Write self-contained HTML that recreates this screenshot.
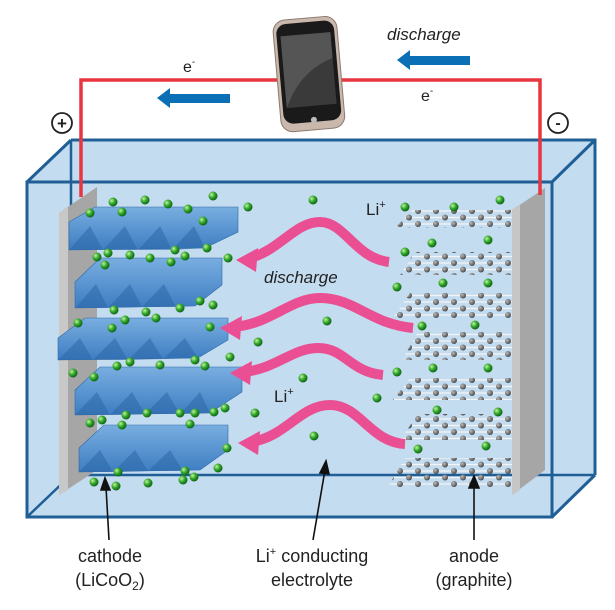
<!DOCTYPE html>
<html><head><meta charset="utf-8"><style>
html,body{margin:0;padding:0;background:#fff;width:615px;height:610px;overflow:hidden}
svg{display:block}
text{font-family:"Liberation Sans",Arial,sans-serif;fill:#222}
</style></head><body>
<svg width="615" height="610" viewBox="0 0 615 610" xmlns="http://www.w3.org/2000/svg">
<defs>
<radialGradient id="g" cx="0.35" cy="0.35" r="0.7"><stop offset="0" stop-color="#c8f0a0"/><stop offset="0.5" stop-color="#2fa82a"/><stop offset="1" stop-color="#0d5a12"/></radialGradient>
<radialGradient id="c" cx="0.35" cy="0.35" r="0.7"><stop offset="0" stop-color="#bbb"/><stop offset="1" stop-color="#444"/></radialGradient>
<pattern id="gr" width="18" height="13" patternUnits="userSpaceOnUse">
<line x1="0" y1="3" x2="18" y2="3" stroke="#f4f4f4" stroke-width="1.3"/>
<line x1="0" y1="9.5" x2="18" y2="9.5" stroke="#f4f4f4" stroke-width="1.3"/>
<circle cx="4" cy="3" r="3" fill="url(#c)"/><circle cx="13" cy="9.5" r="3" fill="url(#c)"/>
</pattern>
<linearGradient id="slab" x1="0" y1="0" x2="0" y2="1"><stop offset="0" stop-color="#79aee0"/><stop offset="1" stop-color="#3d7dc2"/></linearGradient>
</defs>

<!-- box back / fill -->
<polygon points="71,140 595,140 595,475 552,517 27,517 27,182" fill="#c4dcf0"/>
<polyline points="71,140 71,475 595,475" fill="none" stroke="#1f5f95" stroke-width="2.5"/>
<line x1="71" y1="475" x2="27" y2="517" stroke="#1f5f95" stroke-width="2.5"/>
<polyline points="71,140 595,140 595,475" fill="none" stroke="#1f5f95" stroke-width="3"/>

<!-- cathode plate -->
<polygon points="59,213 97,187 97,470 59,495" fill="#a6a6a6"/>
<polygon points="59,213 68,207 68,490 59,495" fill="#c8c8c8"/>
<!-- anode plate -->
<polygon points="512,210 545,188 545,470 512,495" fill="#a6a6a6"/>
<polygon points="512,210 520,205 520,490 512,495" fill="#c6c6c6"/>

<!-- graphite layers -->
<g>
<polygon points="395,228 412,210 512,210 512,228" fill="url(#gr)"/>
<polygon points="400,275 415,252 512,252 512,275" fill="url(#gr)"/>
<polygon points="393,318 410,293 512,293 512,318" fill="url(#gr)"/>
<polygon points="402,360 418,332 512,332 512,360" fill="url(#gr)"/>
<polygon points="393,400 410,378 512,378 512,400" fill="url(#gr)"/>
<polygon points="400,440 418,414 512,414 512,440" fill="url(#gr)"/>
<polygon points="388,487 405,458 512,458 512,487" fill="url(#gr)"/>
</g>

<!-- slabs -->
<g stroke="#2f6aa8" stroke-width="0.6">
<polygon points="69,222 95,207 238,207 238,232 205,248 69,250" fill="url(#slab)"/>
<polygon points="75,282 100,258 222,258 222,285 195,306 75,308" fill="url(#slab)"/>
<polygon points="58,338 85,318 228,318 228,340 198,358 58,360" fill="url(#slab)"/>
<polygon points="75,390 100,367 242,367 242,392 210,413 75,415" fill="url(#slab)"/>
<polygon points="79,448 104,425 228,425 228,450 200,470 79,472" fill="url(#slab)"/>
</g>
<g fill="#2d68a8" opacity="0.55">
<polygon points="69,250 90,226 103,250"/><polygon points="103,250 125,226 138,250"/><polygon points="138,250 160,226 172,250"/><polygon points="172,250 194,226 205,248"/>
<polygon points="75,308 96,284 108,308"/><polygon points="108,308 130,284 142,307"/><polygon points="142,307 164,284 176,307"/>
<polygon points="58,360 80,338 93,360"/><polygon points="93,360 115,338 128,360"/><polygon points="128,360 150,338 163,359"/><polygon points="163,359 185,338 198,358"/>
<polygon points="75,415 97,392 110,415"/><polygon points="110,415 132,392 145,414"/><polygon points="145,414 167,392 180,414"/><polygon points="180,414 200,392 210,413"/>
<polygon points="79,472 100,450 113,472"/><polygon points="113,472 135,450 148,471"/><polygon points="148,471 170,450 183,471"/>
</g>

<!-- front box edges -->
<rect x="27" y="182" width="525" height="335" fill="none" stroke="#1f5f95" stroke-width="3"/>
<line x1="27" y1="182" x2="71" y2="140" stroke="#1f5f95" stroke-width="3"/>
<line x1="552" y1="182" x2="595" y2="140" stroke="#1f5f95" stroke-width="3"/>
<line x1="552" y1="517" x2="595" y2="475" stroke="#1f5f95" stroke-width="3"/>

<!-- red wire -->
<polyline points="81,197 81,80 540,80 540,195" fill="none" stroke="#e8353f" stroke-width="3.5"/>

<!-- phone -->
<g transform="rotate(-5 310 75)">
<rect x="277" y="18" width="64" height="112" rx="12" fill="#cbb8ac" stroke="#8a7a70"/>
<rect x="280" y="22" width="58" height="100" rx="10" fill="#1a1a1a"/>
<rect x="284" y="34" width="50" height="72" fill="#3a3a3a"/>
<path d="M284,34 L334,34 L334,60 Q300,70 284,106 Z" fill="#555"/>
<circle cx="310" cy="120" r="3" fill="#bbb"/>
</g>

<!-- top texts/arrows -->
<text x="387" y="40" font-size="17" font-style="italic">discharge</text>
<polygon points="397,60 410,50 410,56 470,56 470,65 410,65 410,70" fill="#0a6fb5"/>
<text x="183" y="72" font-size="16">e<tspan font-size="10" dy="-7">-</tspan></text>
<text x="421" y="101" font-size="16">e<tspan font-size="10" dy="-7">-</tspan></text>
<polygon points="157,98 170,88 170,94 230,94 230,103 170,103 170,108" fill="#0a6fb5"/>
<circle cx="62" cy="123" r="10" fill="none" stroke="#222" stroke-width="1.8"/>
<text x="62" y="129" font-size="17" text-anchor="middle" font-weight="bold">+</text>
<circle cx="558" cy="123" r="10" fill="none" stroke="#222" stroke-width="1.8"/>
<text x="558" y="128" font-size="16" text-anchor="middle" font-weight="bold">-</text>

<!-- pink arrows -->
<g fill="none" stroke="#ea4f93" stroke-width="10">
<path d="M389,262 C355,258 345,222 320,222 C295,222 280,250 250,258"/>
<path d="M413,328 C370,324 355,298 320,298 C290,298 270,325 232,327"/>
<path d="M383,375 C350,372 345,348 318,348 C292,348 275,370 242,372"/>
<path d="M405,444 C370,442 360,405 330,405 C300,405 285,438 250,442"/>
</g>
<g fill="#ea4f93">
<polygon points="236,260 258,248 256,272"/>
<polygon points="220,328 242,316 240,340"/>
<polygon points="230,373 252,361 250,385"/>
<polygon points="238,443 260,431 258,455"/>
</g>
<text x="264" y="283" font-size="17" font-style="italic">discharge</text>
<text x="366" y="215" font-size="17">Li<tspan font-size="11" dy="-7">+</tspan></text>
<text x="274" y="402" font-size="17">Li<tspan font-size="11" dy="-7">+</tspan></text>

<!-- green li ions -->
<g fill="url(#g)">
<circle cx="113" cy="202" r="4.5"/><circle cx="145" cy="200" r="4.5"/><circle cx="168" cy="204" r="4.5"/><circle cx="213" cy="196" r="4.5"/><circle cx="188" cy="209" r="4.5"/><circle cx="122" cy="212" r="4.5"/><circle cx="90" cy="213" r="4.5"/><circle cx="248" cy="207" r="4.5"/><circle cx="313" cy="200" r="4.5"/><circle cx="405" cy="207" r="4.5"/><circle cx="500" cy="200" r="4.5"/><circle cx="203" cy="221" r="4.5"/><circle cx="454" cy="207" r="4.5"/>
<circle cx="97" cy="257" r="4.5"/><circle cx="108" cy="253" r="4.5"/><circle cx="130" cy="255" r="4.5"/><circle cx="150" cy="258" r="4.5"/><circle cx="175" cy="250" r="4.5"/><circle cx="185" cy="256" r="4.5"/><circle cx="207" cy="248" r="4.5"/><circle cx="228" cy="258" r="4.5"/><circle cx="105" cy="265" r="4.5"/><circle cx="171" cy="262" r="4.5"/><circle cx="405" cy="252" r="4.5"/><circle cx="432" cy="243" r="4.5"/><circle cx="488" cy="240" r="4.5"/>
<circle cx="114" cy="310" r="4.5"/><circle cx="125" cy="320" r="4.5"/><circle cx="146" cy="312" r="4.5"/><circle cx="180" cy="308" r="4.5"/><circle cx="200" cy="301" r="4.5"/><circle cx="213" cy="305" r="4.5"/><circle cx="78" cy="323" r="4.5"/><circle cx="112" cy="328" r="4.5"/><circle cx="156" cy="318" r="4.5"/><circle cx="210" cy="327" r="4.5"/><circle cx="327" cy="321" r="4.5"/><circle cx="397" cy="287" r="4.5"/><circle cx="443" cy="283" r="4.5"/><circle cx="488" cy="283" r="4.5"/><circle cx="422" cy="326" r="4.5"/><circle cx="475" cy="325" r="4.5"/>
<circle cx="258" cy="342" r="4.5"/><circle cx="73" cy="373" r="4.5"/><circle cx="94" cy="377" r="4.5"/><circle cx="117" cy="366" r="4.5"/><circle cx="130" cy="362" r="4.5"/><circle cx="160" cy="365" r="4.5"/><circle cx="195" cy="360" r="4.5"/><circle cx="205" cy="366" r="4.5"/><circle cx="230" cy="357" r="4.5"/><circle cx="397" cy="372" r="4.5"/><circle cx="433" cy="368" r="4.5"/><circle cx="488" cy="368" r="4.5"/><circle cx="303" cy="378" r="4.5"/><circle cx="377" cy="398" r="4.5"/>
<circle cx="126" cy="415" r="4.5"/><circle cx="147" cy="413" r="4.5"/><circle cx="180" cy="413" r="4.5"/><circle cx="195" cy="413" r="4.5"/><circle cx="214" cy="412" r="4.5"/><circle cx="225" cy="408" r="4.5"/><circle cx="90" cy="423" r="4.5"/><circle cx="102" cy="420" r="4.5"/><circle cx="122" cy="425" r="4.5"/><circle cx="190" cy="424" r="4.5"/><circle cx="255" cy="413" r="4.5"/><circle cx="437" cy="410" r="4.5"/><circle cx="498" cy="412" r="4.5"/><circle cx="314" cy="436" r="4.5"/><circle cx="227" cy="448" r="4.5"/><circle cx="418" cy="449" r="4.5"/><circle cx="486" cy="446" r="4.5"/>
<circle cx="118" cy="472" r="4.5"/><circle cx="185" cy="471" r="4.5"/><circle cx="218" cy="468" r="4.5"/><circle cx="94" cy="482" r="4.5"/><circle cx="116" cy="486" r="4.5"/><circle cx="148" cy="483" r="4.5"/><circle cx="183" cy="480" r="4.5"/><circle cx="194" cy="477" r="4.5"/>
</g>

<!-- pointer arrows -->
<g stroke="#111" stroke-width="1.6" fill="#111">
<line x1="109" y1="540" x2="106" y2="487"/><polygon points="105,478 101,490 110,490"/>
<line x1="313" y1="540" x2="325" y2="470"/><polygon points="326,461 320,473 329,474"/>
<line x1="474" y1="540" x2="474" y2="485"/><polygon points="474,476 469,488 479,488"/>
</g>

<!-- bottom labels -->
<text x="110" y="562" font-size="18" text-anchor="middle">cathode</text>
<text x="110" y="586" font-size="18" text-anchor="middle">(LiCoO<tspan font-size="12" dy="4">2</tspan><tspan dy="-4">)</tspan></text>
<text x="312" y="562" font-size="18" text-anchor="middle">Li<tspan font-size="11" dy="-7">+</tspan><tspan dy="7"> conducting</tspan></text>
<text x="312" y="586" font-size="18" text-anchor="middle">electrolyte</text>
<text x="474" y="562" font-size="18" text-anchor="middle">anode</text>
<text x="474" y="586" font-size="18" text-anchor="middle">(graphite)</text>
</svg>
</body></html>
